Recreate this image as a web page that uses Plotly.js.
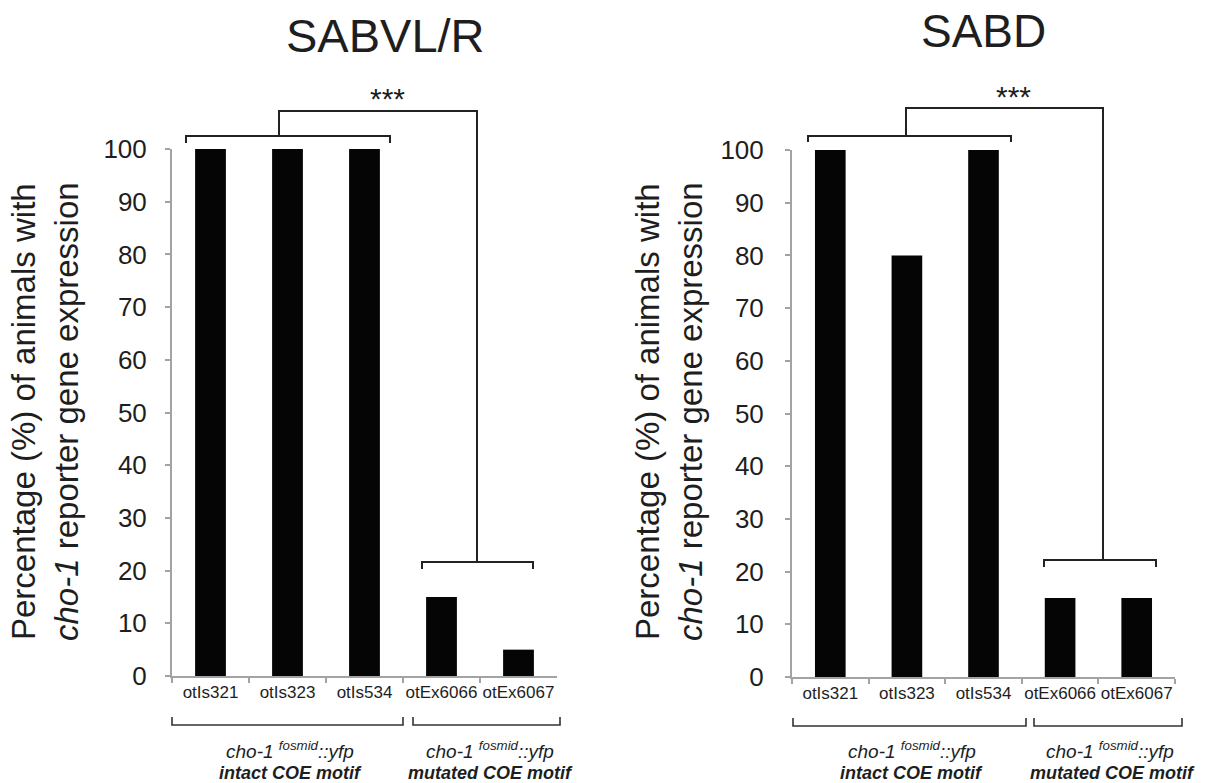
<!DOCTYPE html>
<html><head><meta charset="utf-8">
<script src="https://cdn.plot.ly/plotly-3.0.1.min.js"></script>
<style>html,body{margin:0;padding:0;background:#fff}</style>
</head><body>
<div id="chart" style="width:1210px;height:783px"></div>
<script>
// ---- data ----
const categories = ['otIs321', 'otIs323', 'otIs534', 'otEx6066', 'otEx6067'];
const sabvlrValues = [100, 100, 100, 15, 5];
const sabdValues = [100, 80, 100, 15, 15];
const panelTitles = ['SABVL/R', 'SABD'];
const yTickValues = [0, 10, 20, 30, 40, 50, 60, 70, 80, 90, 100];
const groupConstruct = 'cho-1 <sup>fosmid</sup>::yfp';
const groupLabels = ['intact COE motif', 'mutated COE motif'];
const significance = '***';
const yTitleText = 'Percentage (%) of animals with<br><i>cho-1</i> reporter gene expression';

// ---- layout helpers ----
const W = 1210, H = 783;
const px = x => x / W;
const py = y => 1 - y / H;
const FONT = 'Liberation Sans, Arial, sans-serif';
const TXT = '#1e1e1e';
const AX = '#a3a3a3';
const INK = '#222';

function xAxis(d0, d1, anchor) {
  return {
    domain: [px(d0), px(d1)], anchor: anchor, type: 'category',
    range: [-0.5, 4.5], tickson: 'boundaries', ticks: 'outside', ticklen: 5,
    tickcolor: AX, tickwidth: 2, showline: true, linecolor: AX, linewidth: 2,
    showgrid: false, zeroline: false, fixedrange: true, tickangle: 0,
    tickfont: {family: FONT, size: 17, color: TXT}
  };
}
function yAxis(d0, d1, anchor, standoff) {
  return {
    domain: [py(d0), py(d1)], anchor: anchor, range: [0, 100],
    tickvals: yTickValues, ticks: 'outside', ticklen: 5, tickcolor: AX, tickwidth: 2,
    showline: true, linecolor: AX, linewidth: 2, showgrid: false, zeroline: false,
    fixedrange: true, ticklabelstandoff: standoff,
    tickfont: {family: FONT, size: 26, color: TXT}
  };
}

const traces = [
  {type: 'bar', x: categories, y: sabvlrValues, xaxis: 'x', yaxis: 'y',
   marker: {color: '#050505', line: {width: 0}}, hoverinfo: 'x+y'},
  {type: 'bar', x: categories, y: sabdValues, xaxis: 'x2', yaxis: 'y2',
   marker: {color: '#050505', line: {width: 0}}, hoverinfo: 'x+y'}
];

// bracket paths (pixel -> paper)
function path(pts) {
  return pts.map((p, i) => (i ? 'L' : 'M') + px(p[0]).toFixed(5) + ',' + py(p[1]).toFixed(5)).join(' ');
}
function bracket(pts, w, c) {
  return {type: 'path', xref: 'paper', yref: 'paper', path: path(pts),
          line: {color: c || INK, width: w || 2}};
}
const shapes = [
  // left panel significance brackets
  bracket([[279, 136], [279, 111], [477, 111], [477, 562]]),
  bracket([[186, 143], [186, 136], [390, 136], [390, 143]]),
  bracket([[422, 569], [422, 562], [533, 562], [533, 569]]),
  // right panel
  bracket([[906, 136], [906, 108], [1103, 108], [1103, 560]]),
  bracket([[808, 142], [808, 136], [1011, 136], [1011, 142]]),
  bracket([[1044, 567], [1044, 560], [1156, 560], [1156, 567]]),
  // bottom group brackets
  bracket([[172, 717], [172, 725], [403, 725], [403, 717]], 1.6, '#333'),
  bracket([[413, 717], [413, 725], [560, 725], [560, 717]], 1.6, '#333'),
  bracket([[793, 718], [793, 726], [1026, 726], [1026, 718]], 1.6, '#333'),
  bracket([[1034, 718], [1034, 726], [1182, 726], [1182, 718]], 1.6, '#333')
];

function ann(text, x, y, size, extra) {
  return Object.assign({
    text: text, xref: 'paper', yref: 'paper', x: px(x), y: py(y),
    xanchor: 'center', yanchor: 'middle', showarrow: false, borderpad: 0,
    font: {family: FONT, size: size, color: TXT}
  }, extra || {});
}
const itFont = s => ({font: {family: FONT, size: s, color: TXT, style: 'italic'}});
const biFont = s => ({font: {family: FONT, size: s, color: TXT, style: 'italic', weight: 'bold'}});
const annotations = [
  ann(panelTitles[0], 385, 35, 47),
  ann(panelTitles[1], 983, 31, 46),
  ann(significance, 387, 99, 30),
  ann(significance, 1013, 97, 30),
  ann(yTitleText, 45, 412, 33, {textangle: -90}),
  ann(yTitleText, 669, 412, 33, {textangle: -90}),
  ann(groupConstruct, 290, 750, 19, itFont(19)),
  ann(groupConstruct, 490, 750, 19, itFont(19)),
  ann(groupConstruct, 912, 750, 19, itFont(19)),
  ann(groupConstruct, 1110, 750, 19, itFont(19)),
  ann(groupLabels[0], 290, 773, 18, biFont(18)),
  ann(groupLabels[1], 490, 773, 18, biFont(18)),
  ann(groupLabels[0], 911, 773, 18, biFont(18)),
  ann(groupLabels[1], 1112, 773, 18, biFont(18))
];

const layout = {
  width: W, height: H, margin: {l: 0, r: 0, t: 0, b: 0},
  paper_bgcolor: '#fff', plot_bgcolor: '#fff', showlegend: false,
  bargap: 0.6,
  font: {family: FONT, color: TXT},
  xaxis: xAxis(172, 557, 'y'),
  yaxis: yAxis(676, 149, 'x', 13),
  xaxis2: xAxis(792, 1175, 'y2'),
  yaxis2: yAxis(677, 150, 'x2', 16),
  shapes: shapes,
  annotations: annotations
};

Plotly.newPlot('chart', traces, layout, {displayModeBar: false, staticPlot: true});
</script>
</body></html>
